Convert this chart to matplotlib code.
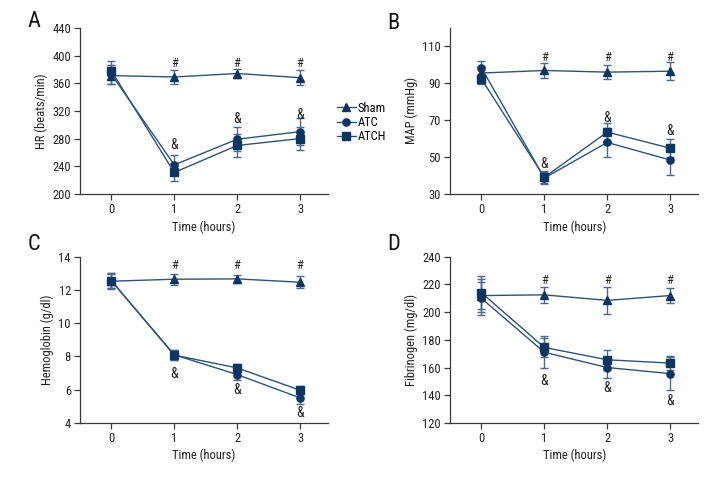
import matplotlib
matplotlib.use("Agg")
import matplotlib.pyplot as plt
from matplotlib import font_manager
import numpy as np

_avail = {f.name for f in font_manager.fontManager.ttflist}
_fams = [f for f in ['Roboto Condensed', 'DejaVu Sans Condensed', 'Liberation Sans Narrow', 'Roboto', 'DejaVu Sans'] if f in _avail]
plt.rcParams['font.family'] = _fams

hours = [0, 1, 2, 3]
groups = ["Sham", "ATC", "ATCH"]

# Panel A: HR (beats/min)
hr_sham = [371, 369, 374, 368]
hr_sham_err = [12, 10, 7, 11]
hr_atc = [373, 242, 279, 290]
hr_atc_err = [14, 14, 17, 20]
hr_atch = [378, 231, 270, 280]
hr_atch_err = [14, 13, 16, 16]

# Panel B: MAP (mmHg)
map_sham = [95.5, 96.9, 96.0, 96.5]
map_sham_err = [4, 4, 3.8, 4.8]
map_atc = [98.3, 38.6, 57.9, 48.4]
map_atc_err = [4, 3.3, 7.7, 8]
map_atch = [92.3, 39.0, 63.5, 54.8]
map_atch_err = [2.5, 3.3, 5, 5]

# Panel C: Hemoglobin (g/dl)
hb_sham = [12.53, 12.65, 12.67, 12.47]
hb_sham_err = [0.45, 0.32, 0.23, 0.35]
hb_atc = [12.55, 8.1, 6.91, 5.51]
hb_atc_err = [0.45, 0.3, 0.3, 0.36]
hb_atch = [12.57, 8.08, 7.31, 5.97]
hb_atch_err = [0.45, 0.3, 0.24, 0.26]

# Panel D: Fibrinogen (mg/dl)
fb_sham = [212, 212.5, 208.5, 212]
fb_sham_err = [12, 6, 10, 5.6]
fb_atc = [210, 171, 160, 155.6]
fb_atc_err = [12, 11.5, 7.3, 12]
fb_atch = [214, 174.5, 165.6, 163.2]
fb_atch_err = [12, 7, 7.3, 5.2]

panels = [
    dict(letter="A", ylabel="HR (beats/min)", ylim=(200, 440), yticks=[200, 240, 280, 320, 360, 400, 440],
         data=[(hr_sham, hr_sham_err), (hr_atc, hr_atc_err), (hr_atch, hr_atch_err)],
         hash_y=[389, 389, 389], amp_y=[270, 308, 314]),
    dict(letter="B", ylabel="MAP (mmHg)", ylim=(30, 120), yticks=[30, 50, 70, 90, 110],
         data=[(map_sham, map_sham_err), (map_atc, map_atc_err), (map_atch, map_atch_err)],
         hash_y=[104, 104, 104], amp_y=[46.4, 71.4, 64]),
    dict(letter="C", ylabel="Hemoglobin (g/dl)", ylim=(4, 14), yticks=[4, 6, 8, 10, 12, 14],
         data=[(hb_sham, hb_sham_err), (hb_atc, hb_atc_err), (hb_atch, hb_atch_err)],
         hash_y=[13.45, 13.45, 13.45], amp_y=[6.95, 5.97, 4.6]),
    dict(letter="D", ylabel="Fibrinogen (mg/dl)", ylim=(120, 240), yticks=[120, 140, 160, 180, 200, 220, 240],
         data=[(fb_sham, fb_sham_err), (fb_atc, fb_atc_err), (fb_atch, fb_atch_err)],
         hash_y=[223, 223, 223], amp_y=[150.3, 145.5, 135.8]),
]

rects = [
    [0.111, 0.596, 0.345, 0.346],
    [0.625, 0.596, 0.345, 0.346],
    [0.111, 0.119, 0.345, 0.346],
    [0.625, 0.119, 0.345, 0.346],
]

marker_color = "#0e3560"
line_color = "#2e5378"
err_color = "#4a6a8c"
axis_color = "#3a3a3a"
markers = ["^", "o", "s"]
msizes = [6.2, 5.2, 5.8]
fs = 9

fig = plt.figure(figsize=(7.2, 4.8), dpi=100)

letter_pos = [(0.038, 0.955), (0.538, 0.952), (0.038, 0.49), (0.538, 0.49)]

handles = []
for i, (p, r) in enumerate(zip(panels, rects)):
    ax = fig.add_axes(r)
    for k, (vals, errs) in enumerate(p["data"]):
        ax.errorbar(hours, vals, yerr=errs, color=line_color, ecolor=err_color, elinewidth=1.0,
                    capsize=3.2, capthick=1.0, lw=1.0, zorder=2, fmt='none')
        h, = ax.plot(hours, vals, color=line_color, lw=1.0, marker=markers[k], ms=msizes[k],
                     mfc=marker_color, mec=marker_color, zorder=3, label=groups[k])
        if i == 0:
            handles.append(h)
    for j, x in enumerate(hours[1:]):
        ax.text(x, p["hash_y"][j], "#", ha="center", va="center", fontsize=fs, color="#222222")
        ax.text(x, p["amp_y"][j], "&", ha="center", va="center", fontsize=fs + 1, color="#222222")
    ax.set_xlim(-0.5, 3.45)
    ax.set_ylim(*p["ylim"])
    ax.set_xticks(hours)
    ax.set_yticks(p["yticks"])
    ax.set_xlabel("Time (hours)", fontsize=fs, color="#222222", labelpad=3)
    ax.set_ylabel(p["ylabel"], fontsize=fs, color="#222222", labelpad=3)
    for s in ["top", "right"]:
        ax.spines[s].set_visible(False)
    for s in ["left", "bottom"]:
        ax.spines[s].set_color(axis_color)
        ax.spines[s].set_linewidth(0.9)
    ax.tick_params(axis="both", direction="out", length=4, width=0.9, color=axis_color,
                   labelsize=fs, labelcolor="#222222", pad=2.5)
    fig.text(letter_pos[i][0], letter_pos[i][1], p["letter"], fontsize=16, color="#111111",
             ha="left", va="center")

fig.legend(handles=handles, loc="center left", bbox_to_anchor=(0.461, 0.745), frameon=False,
           fontsize=fs, handlelength=1.5, handletextpad=0.15, labelspacing=0.1, borderaxespad=0,
           markerscale=1.0)

fig.savefig("out.png", dpi=100)
